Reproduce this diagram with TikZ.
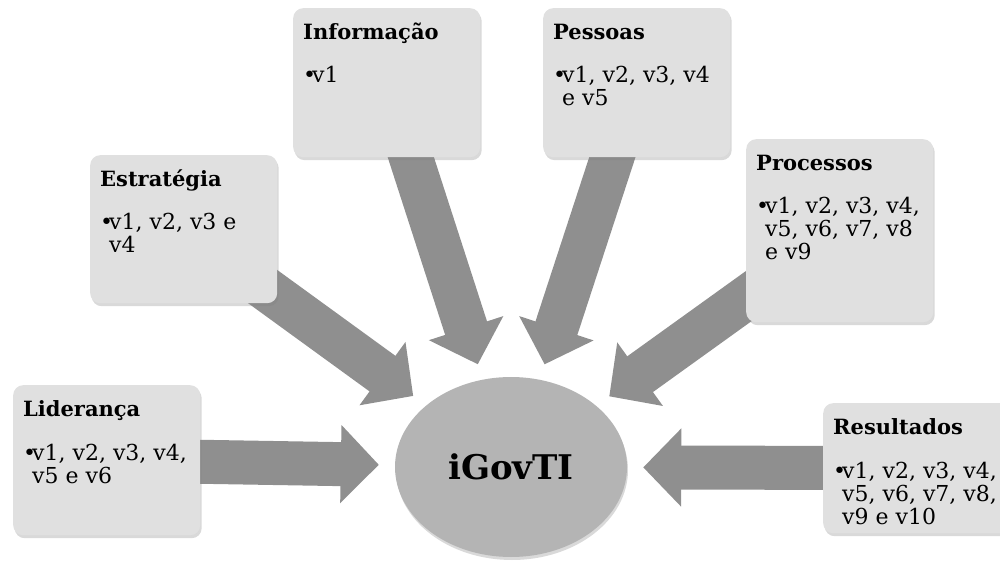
\documentclass[tikz,border=0pt]{standalone}
\usepackage{fontspec}
\setmainfont{DejaVu Serif}
\usetikzlibrary{arrows.meta,shadows,backgrounds,shapes.geometric}

\definecolor{caixacor}{RGB}{224,224,224}
\definecolor{setacor}{RGB}{143,143,143}
\definecolor{centrocor}{RGB}{180,180,180}

\newcommand{\caixatexto}[2]{%
  \parbox[t]{175pt}{\fontsize{21}{23}\selectfont
    \textbf{#1}\par\vspace{20pt}%
    \fontsize{22}{23}\selectfont\rightskip=0pt plus 1fil
    \hangindent=9pt\hangafter=1\noindent\makebox[9pt][l]{\textbullet}#2}}

\begin{document}
\begin{tikzpicture}[x=1pt,y=1pt,
    caixa/.style={fill=caixacor,rounded corners=10pt,inner sep=0,
      anchor=north west,minimum width=187pt,
      drop shadow={shadow xshift=1.5pt,shadow yshift=-3pt,opacity=0.3}},
    texto/.style={anchor=base west,inner sep=0},
    centro/.style={ellipse,fill=centrocor,inner sep=0,
      minimum width=232pt,minimum height=180pt,
      drop shadow={shadow xshift=1pt,shadow yshift=-3pt,opacity=0.3}},
    seta/.style={setacor,line width=44pt,shorten >=16pt,
      -{Triangle[length=38pt,width=76pt]}}]
  \useasboundingbox (0,0) rectangle (1000,562);
  % centro
  \node[centro] (igov) at (511,95)
    {\fontsize{34}{40}\selectfont\textbf{iGovTI}};
  % caixas
  \foreach \n/\x/\y/\h/\t/\b in {
      lid/13/177/150/Liderança/{v1, v2, v3, v4,\\v5 e v6},
      est/90/407/148/Estratégia/{v1, v2, v3 e\\v4},
      inf/293/554/149/Informação/{v1},
      pes/543/554/149/Pessoas/{v1, v2, v3, v4\\e v5},
      pro/746/423/183/Processos/{v1, v2, v3, v4,\\v5, v6, v7, v8\\e v9},
      res/823/159/130/Resultados/{v1, v2, v3, v4,\\v5, v6, v7, v8,\\v9 e v10}}{
    \node[caixa,minimum height=\h pt] (\n) at (\x,\y) {};
    \node[texto] (\n-t) at ([shift={(10,-32)}]\n.north west)
      {\caixatexto{\t}{\b}};
  }
  % setas
  \begin{scope}[on background layer]
    \foreach \n in {lid,est,inf,pes,pro,res}
      \draw[seta] (\n.center) -- (igov);
  \end{scope}
\end{tikzpicture}
\end{document}
